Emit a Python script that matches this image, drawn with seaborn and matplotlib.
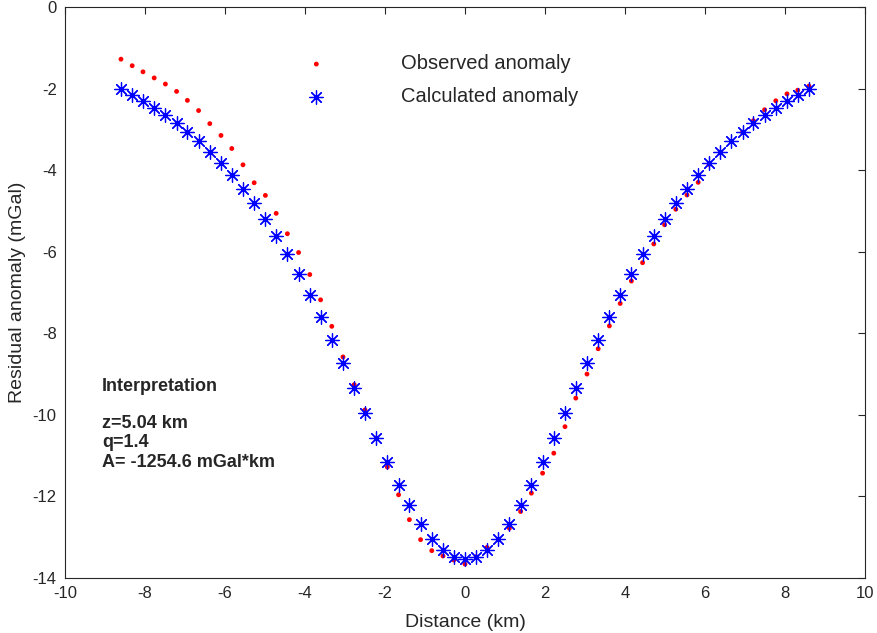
import numpy as np
import pandas as pd
import matplotlib
matplotlib.use("Agg")
import matplotlib.pyplot as plt
import seaborn as sns

# distance along profile (km)
distance = [
    -8.60, -8.32, -8.05, -7.77, -7.49, -7.21, -6.94, -6.66, -6.38, -6.10,
    -5.83, -5.55, -5.27, -4.99, -4.72, -4.44, -4.16, -3.88, -3.61, -3.33,
    -3.05, -2.77, -2.50, -2.22, -1.94, -1.66, -1.39, -1.11, -0.83, -0.55,
    -0.28, 0.00, 0.28, 0.55, 0.83, 1.11, 1.39, 1.66, 1.94, 2.22,
    2.50, 2.77, 3.05, 3.33, 3.61, 3.88, 4.16, 4.44, 4.72, 4.99,
    5.27, 5.55, 5.83, 6.10, 6.38, 6.66, 6.94, 7.21, 7.49, 7.77,
    8.05, 8.32, 8.60,
]

observed = [
    -1.28, -1.44, -1.59, -1.74, -1.89, -2.07, -2.29, -2.54, -2.86, -3.15,
    -3.47, -3.87, -4.31, -4.62, -5.06, -5.56, -6.02, -6.56, -7.18, -7.83,
    -8.58, -9.26, -9.88, -10.57, -11.28, -11.96, -12.57, -13.06, -13.33, -13.46,
    -13.56, -13.66, -13.48, -13.25, -13.06, -12.78, -12.37, -11.92, -11.43, -10.94,
    -10.29, -9.59, -9.00, -8.38, -7.82, -7.27, -6.72, -6.27, -5.81, -5.34,
    -4.96, -4.61, -4.30, -3.86, -3.56, -3.30, -3.07, -2.79, -2.52, -2.30,
    -2.13, -2.04, -1.94,
]

calculated = [
    -2.01, -2.15, -2.30, -2.47, -2.65, -2.84, -3.06, -3.29, -3.55, -3.83,
    -4.13, -4.46, -4.81, -5.20, -5.61, -6.06, -6.54, -7.05, -7.59, -8.16,
    -8.74, -9.35, -9.96, -10.57, -11.15, -11.71, -12.22, -12.67, -13.04, -13.31,
    -13.48, -13.54, -13.48, -13.31, -13.04, -12.67, -12.22, -11.71, -11.15, -10.57,
    -9.96, -9.35, -8.74, -8.16, -7.59, -7.05, -6.54, -6.06, -5.61, -5.20,
    -4.81, -4.46, -4.13, -3.83, -3.55, -3.29, -3.06, -2.84, -2.65, -2.47,
    -2.30, -2.15, -2.01,
]

interp_lines = ["z=5.04 km", "q=1.4", "A= -1254.6 mGal*km"]

df = pd.DataFrame({"x": distance, "obs": observed, "calc": calculated})

sns.set_style("white")
plt.rcParams["font.family"] = ["Liberation Sans", "DejaVu Sans"]
plt.rcParams["axes.unicode_minus"] = False

fig = plt.figure(figsize=(8.77, 6.33), dpi=100)
ax = fig.add_axes([0.0741, 0.0869, 0.9122, 0.9021])

sns.scatterplot(data=df, x="x", y="obs", ax=ax, color="red", marker="o",
                s=12, edgecolor="none", label="Observed anomaly")
sns.scatterplot(data=df, x="x", y="calc", ax=ax, color="blue", marker=(8, 2, 0),
                s=95, linewidth=0.9, label="Calculated anomaly")

ax.set_xlim(-10, 10)
ax.set_ylim(-14, 0)
ax.set_xticks(range(-10, 11, 2))
ax.set_yticks(range(-14, 1, 2))
ax.set_xlabel("Distance (km)", fontsize=14, color="#262626", labelpad=9)
ax.set_ylabel("Residual anomaly (mGal)", fontsize=14, color="#262626", labelpad=5)
ax.tick_params(direction="in", length=5, width=0.8, top=True, right=True,
               labelsize=12, colors="#262626", pad=6)
for sp in ax.spines.values():
    sp.set_color("#262626")
    sp.set_linewidth(0.8)

ax.legend(loc="upper left", bbox_to_anchor=(0.289, 0.917), frameon=False,
          fontsize=14.5, handletextpad=3.2, labelspacing=0.7, handlelength=2,
          borderpad=0, borderaxespad=0)

ax.text(0.046, 0.336, "Interpretation", transform=ax.transAxes, fontsize=13,
        fontweight="bold", va="center")
for line, yy in zip(interp_lines, [0.271, 0.238, 0.203]):
    ax.text(0.046, yy, line, transform=ax.transAxes, fontsize=13,
            fontweight="bold", va="center")

fig.savefig("out.png", dpi=100)
